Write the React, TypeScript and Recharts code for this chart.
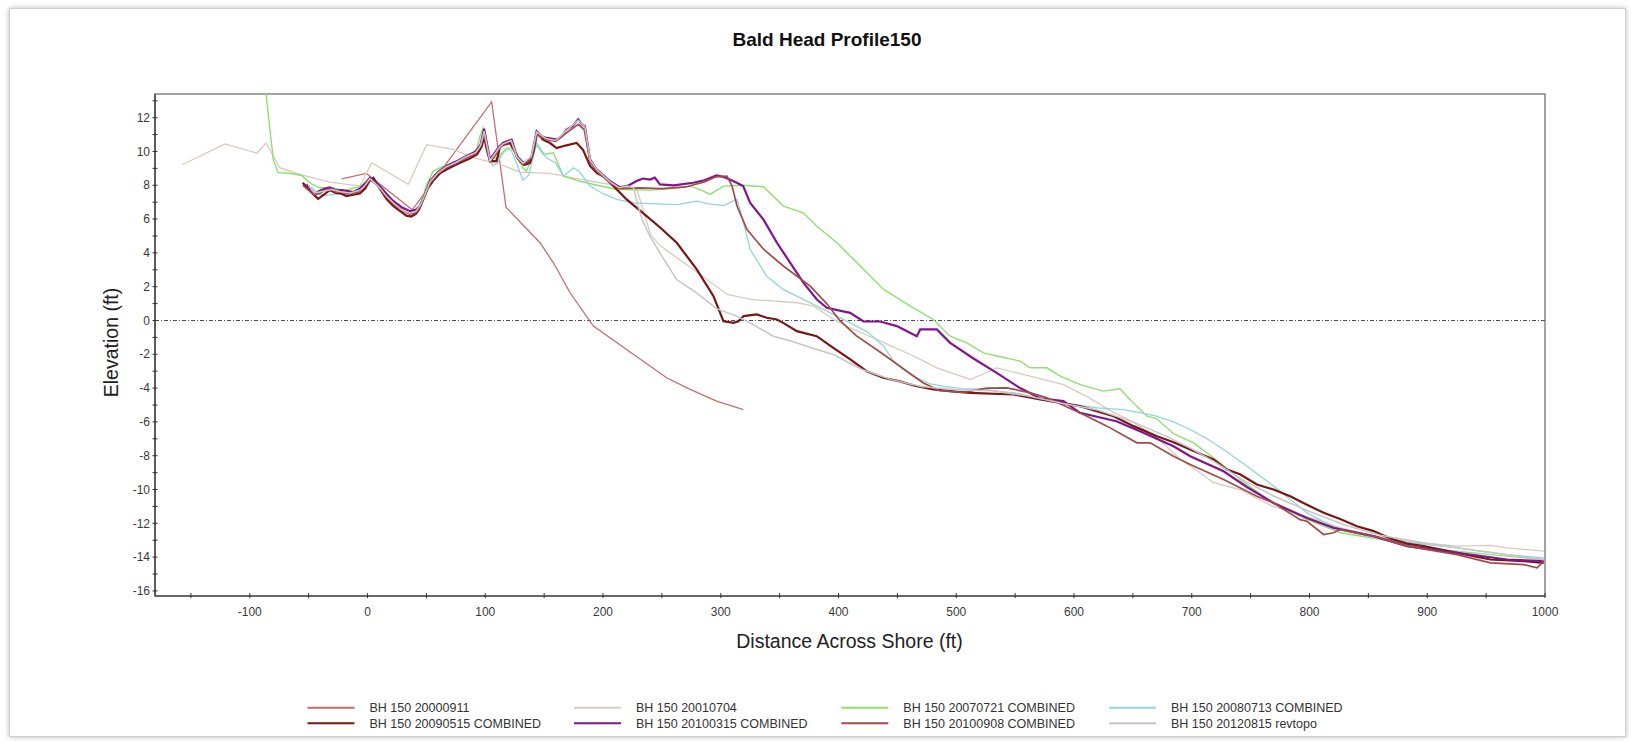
import React from "react";
import { LineChart, Line, XAxis, YAxis, ReferenceLine, ReferenceArea } from "recharts";

// Beach profile surveys, Bald Head profile 150: [distance across shore (ft), elevation (ft)]
const P_20000911: [number, number][] = [
  [-22, 8.38], [-1, 8.7], [38, 6.55], [105.4, 12.93], [117.6, 6.7], [130, 5.8], [146.5, 4.6],
  [158, 3.4], [172, 1.64], [191.8, -0.33], [220, -1.72], [254, -3.39], [274, -4.08],
  [296.5, -4.77], [319.2, -5.27],
];

const P_20010704: [number, number][] = [
  [-157, 9.23], [-121, 10.45], [-94, 9.9], [-86.3, 10.5], [-74.4, 9.03], [-57.4, 8.64], [-32, 8.19],
  [-6.4, 7.95], [3.5, 9.33], [34.6, 8.05], [50.2, 10.4], [72.8, 10.12], [89.8, 9.63], [112.5, 9.23],
  [129.5, 8.78], [155, 8.7], [177.7, 8.39], [197.5, 8.15], [220, 7.91], [229, 7.7], [240.4, 5.08],
  [248.9, 4.4], [268.8, 3.42], [305.6, 1.54], [325.4, 1.25], [365, 1.05], [378.8, 0.85], [396, 0.06],
  [407, -0.34], [438, -1.3], [463.7, -2.1], [483.5, -2.8], [512, -3.49], [534.5, -2.8], [562.8, -3.29],
  [591, -3.79], [611, -4.5], [630, -5.3], [650, -6.0], [670, -6.9], [690, -8.2], [705, -8.9],
  [718.5, -9.6], [741, -10.0], [769, -11.0], [798, -11.6], [826.6, -12.27], [855, -12.76],
  [883, -13.06], [925, -13.35], [953.6, -13.3], [968, -13.45], [999, -13.65],
];

const P_20070721: [number, number][] = [
  [-88, 14.5], [-84, 12.0], [-80, 9.5], [-76, 8.75], [-64.5, 8.7], [-56, 8.58], [-48, 8.1],
  [-40.4, 7.85], [-30, 7.85], [-20, 7.7], [-6.5, 7.91], [2, 8.44], [6, 8.2], [11, 7.8], [16, 7.35],
  [22, 6.95], [30, 6.5], [36, 6.27], [42, 6.5], [46, 7.1], [50, 8.0], [55.8, 8.84], [65, 9.15],
  [78.5, 9.43], [88, 9.8], [93, 10.2], [95.5, 10.9], [98.3, 11.4], [101, 10.5], [104, 9.53],
  [110, 9.6], [118, 10.2], [124, 10.2], [128, 9.7], [132, 9.0], [135, 8.84], [139, 9.5],
  [143.6, 10.4], [149.3, 9.82], [157.8, 9.92], [166.3, 8.54], [180.4, 8.24], [195, 8.0],
  [211.6, 7.75], [240, 7.71], [260, 7.8], [274, 7.95], [284, 7.7], [290.9, 7.46], [302.3, 7.95],
  [319, 8.0], [336.2, 7.91], [353.2, 6.77], [370, 6.37], [381.6, 5.58], [398.6, 4.6], [415.6, 3.41],
  [438.3, 1.84], [461, 0.85], [480.6, 0.06], [494.8, -0.93], [509, -1.32], [523, -1.92],
  [534.5, -2.1], [554.2, -2.4], [562.7, -2.8], [577, -2.8], [588.3, -3.29], [605.3, -3.79],
  [625, -4.18], [639, -4.04], [647.6, -4.67], [662, -5.66], [670, -5.8], [684.5, -6.7],
  [701.6, -7.24], [724, -8.42], [741, -9.41], [769, -10.8], [798, -11.78], [826.6, -12.56],
  [868.6, -13.05], [911, -13.55], [953.5, -13.85], [999, -14.14],
];

const P_20080713: [number, number][] = [
  [-48, 7.9], [-42, 7.5], [-36, 7.4], [-29, 7.46], [-22, 7.5], [-15, 7.4], [-8, 7.5], [-2, 7.9],
  [2, 8.3], [6, 8.1], [11, 7.7], [16, 7.2], [22, 6.9], [30, 6.5], [36, 6.3], [42, 6.45], [46, 6.9],
  [50, 7.6], [55, 8.3], [62, 8.7], [70, 9.0], [80, 9.35], [90, 9.7], [96, 10.1], [99, 10.7],
  [102, 9.8], [106.5, 9.14], [110, 9.3], [114, 9.8], [118, 10.1], [122, 10.1], [126, 9.4],
  [132, 8.3], [137, 8.6], [143.6, 10.5], [152, 9.63], [160, 9.3], [166.3, 8.54], [174.8, 9.04],
  [180, 8.8], [189, 7.95], [200, 7.5], [211.6, 7.16], [225.8, 6.96], [245, 6.9], [262.6, 6.86],
  [279.6, 7.06], [290, 6.9], [302.3, 6.8], [313.6, 7.16], [316.4, 6.57], [325, 4.2], [339, 2.62],
  [353, 1.84], [381.6, 0.85], [410, -0.14], [425, -0.7], [438.3, -1.52], [446.6, -2.4],
  [455.3, -2.9], [463.7, -3.3], [477.8, -3.75], [490, -3.9], [506, -4.05], [523, -4.05],
  [534.5, -4.18], [551.4, -4.3], [562.8, -4.48], [580, -4.75], [599.6, -4.97], [619.5, -5.17],
  [642, -5.27], [656, -5.45], [670, -5.66], [684.5, -6.0], [698.6, -6.45], [713, -7.0],
  [727, -7.63], [747, -8.62], [769.5, -9.8], [784, -10.6], [797.9, -11.38], [812, -11.9],
  [826.3, -12.37], [854.6, -12.86], [883, -13.12], [925.5, -13.45], [968, -13.85], [999, -14.05],
];

const P_20090515: [number, number][] = [
  [-55, 8.15], [-50, 7.75], [-45, 7.4], [-42, 7.2], [-37, 7.45], [-32, 7.72], [-27, 7.55],
  [-22, 7.5], [-18, 7.36], [-12, 7.45], [-6.5, 7.52], [-2, 7.8], [2, 8.3], [5, 8.44], [8, 8.1],
  [11, 7.75], [16, 7.2], [22, 6.77], [28, 6.45], [33, 6.2], [37, 6.15], [41, 6.3], [44, 6.6],
  [48, 7.3], [51, 7.8], [56, 8.3], [62, 8.74], [70, 9.05], [78.5, 9.33], [86, 9.55], [93, 9.82],
  [97, 10.3], [99, 10.9], [101, 10.2], [104, 9.43], [109.6, 9.43], [112.5, 10.3], [116, 10.4],
  [121, 10.5], [125, 10.0], [129.5, 9.4], [133, 9.2], [138, 9.33], [141, 10.0], [144, 11.1],
  [149, 10.7], [155, 10.5], [160.6, 10.2], [168, 10.35], [177.6, 10.5], [183, 10.1], [189, 9.14],
  [195, 8.7], [200.3, 8.54], [209, 7.95], [220, 7.16], [234, 6.35], [248.5, 5.5], [262.6, 4.6],
  [279.6, 3.02], [293.8, 1.44], [302.3, -0.04], [310.8, -0.14], [315, -0.05], [319.4, 0.26],
  [330.7, 0.36], [339, 0.16], [347.7, 0.06], [353, -0.14], [364.6, -0.63], [381.5, -0.93],
  [395.6, -1.62], [410, -2.3], [423.9, -3.0], [438, -3.39], [452, -3.6], [466.4, -3.89],
  [480.5, -4.08], [494.7, -4.18], [511.7, -4.28], [548.6, -4.38], [571.3, -4.67], [605, -5.07],
  [633.6, -5.66], [650.6, -6.25], [670.4, -6.85], [684.5, -7.2], [698.7, -7.63], [718.5, -8.22],
  [729.8, -8.82], [741, -9.1], [755.3, -9.7], [769.5, -10.0], [783.6, -10.4], [797.8, -10.9],
  [812, -11.38], [826, -11.75], [840.3, -12.17], [854.5, -12.46], [868.6, -12.9], [882.8, -13.2],
  [897, -13.35], [925.3, -13.75], [953.6, -14.14], [982, -14.24], [999, -14.34],
];

const P_20100315: [number, number][] = [
  [-52, 8.05], [-48, 7.6], [-44, 7.5], [-41, 7.67], [-36, 7.8], [-32, 7.87], [-27, 7.7],
  [-22, 7.72], [-18, 7.67], [-12, 7.6], [-6.5, 7.8], [-2, 8.1], [2, 8.44], [6, 8.2], [10.5, 7.95],
  [16, 7.5], [22, 7.06], [29, 6.7], [36, 6.47], [41, 6.55], [44.5, 6.77], [49, 7.5], [53, 8.25],
  [60, 8.8], [67, 9.14], [75, 9.4], [84, 9.73], [92, 10.0], [96, 10.4], [99, 11.34], [101, 10.6],
  [104, 9.53], [108, 9.92], [112, 10.3], [115, 10.5], [122.4, 10.7], [126.7, 9.73], [132.3, 9.33],
  [136, 9.4], [139.4, 9.73], [143.6, 11.2], [148, 10.9], [152, 10.8], [160.6, 10.7], [165, 10.9],
  [169, 11.3], [174, 11.5], [178.9, 11.9], [182, 11.6], [184.6, 11.5], [188.9, 9.53], [194.5, 8.94],
  [205.8, 8.25], [214.3, 7.87], [222, 8.0], [228.5, 8.25], [234, 8.4], [239.8, 8.34], [244, 8.45],
  [248.3, 8.05], [260, 8.0], [276.6, 8.15], [286, 8.3], [296.4, 8.59], [302, 8.5], [307.7, 8.34],
  [313.6, 8.15], [319, 7.95], [325, 6.96], [336.3, 5.97], [347.7, 4.6], [359, 3.41], [370.3, 2.22],
  [381.6, 1.24], [390, 0.75], [400, 0.6], [409.9, 0.45], [421.2, -0.06], [435.4, -0.06],
  [449.5, -0.33], [466.5, -0.93], [469.4, -0.53], [483.5, -0.53], [494.8, -1.32], [514.6, -2.25],
  [534.3, -3.1], [554.2, -4.0], [571.2, -4.6], [591, -4.77], [605, -5.46], [636, -5.96],
  [656, -6.55], [684.5, -7.44], [698.7, -8.03], [727, -8.92], [746.8, -9.85], [769.5, -10.8],
  [797.8, -11.68], [820.5, -12.27], [854.5, -12.76], [882.8, -13.35], [925.3, -13.75],
  [967.8, -14.14], [999, -14.24],
];

const P_20100908: [number, number][] = [
  [-55, 8.0], [-50, 7.7], [-45, 7.45], [-41, 7.5], [-36, 7.7], [-32, 7.8], [-27, 7.6], [-22, 7.6],
  [-18, 7.5], [-12, 7.5], [-6.5, 7.65], [-2, 8.0], [2, 8.35], [6, 8.15], [10.5, 7.85], [16, 7.35],
  [22, 6.9], [29, 6.55], [36, 6.3], [41, 6.4], [44.5, 6.7], [49, 7.4], [53, 8.1], [60, 8.7],
  [67, 9.05], [75, 9.3], [84, 9.6], [92, 9.9], [96, 10.3], [99, 11.0], [101, 10.4], [104, 9.4],
  [108, 9.7], [112, 10.2], [115, 10.4], [122, 10.6], [127, 9.6], [132, 9.25], [139, 9.6],
  [143.6, 11.0], [152, 10.7], [160, 10.6], [169, 11.1], [179, 11.6], [184, 11.3], [189, 9.4],
  [195, 8.8], [206, 8.15], [214, 7.8], [230, 7.85], [250, 7.8], [270, 7.9], [286, 8.2], [296, 8.5],
  [305.3, 8.54], [309.6, 7.95], [313.8, 6.77], [322.3, 5.38], [336.5, 4.2], [353.4, 3.21],
  [376, 2.03], [390, 1.0], [401, 0.0], [415, -0.9], [438, -2.0], [458, -3.0], [472, -3.7],
  [486, -4.15], [506, -4.25], [526, -4.0], [543, -3.99], [563, -4.28], [577, -4.57], [608, -5.56],
  [628, -6.25], [653.4, -7.24], [664.7, -7.24], [684.5, -8.03], [698.7, -8.52], [727, -9.41],
  [755.3, -10.4], [769.5, -10.8], [792, -11.78], [797.8, -11.88], [812, -12.66], [820.5, -12.56],
  [826, -12.37], [854.5, -12.76], [882.8, -13.35], [925.3, -13.85], [953.6, -14.34], [982, -14.44],
  [993.3, -14.63], [999, -14.24],
];

const P_20120815: [number, number][] = [
  [-50, 8.0], [-45, 7.55], [-38, 7.65], [-30, 7.75], [-22, 7.6], [-15, 7.55], [-6.5, 7.7],
  [-2, 8.0], [2, 8.4], [6, 8.15], [11, 7.8], [16, 7.35], [22, 6.95], [29, 6.55], [36, 6.35],
  [41, 6.45], [45, 6.85], [49, 7.5], [53, 8.2], [60, 8.75], [67, 9.1], [75, 9.35], [84, 9.7],
  [92, 9.95], [96, 10.35], [99, 11.2], [101, 10.5], [104, 9.45], [108, 9.85], [112, 10.25],
  [115, 10.45], [122, 10.65], [126.7, 9.7], [132, 9.3], [139, 9.7], [143.6, 11.15], [152, 10.75],
  [160, 10.65], [169, 11.25], [178.9, 11.85], [184.6, 11.45], [189, 9.5], [195, 8.9], [206, 8.2],
  [214, 7.85], [220, 7.95], [226, 7.87], [229, 6.96], [233, 6.0], [239.8, 4.99], [248.3, 4.0],
  [262.5, 2.42], [279.5, 1.63], [296.5, 0.7], [313.5, 0.26], [324.8, -0.14], [344.7, -0.93],
  [358.8, -1.2], [381.5, -1.72], [395.6, -2.01], [420, -2.9], [445, -3.5], [470, -3.9],
  [500, -4.1], [530, -4.15], [560, -4.45], [590, -4.9], [620, -5.3], [650, -6.0], [680, -6.9],
  [700, -7.6], [720, -8.4], [745, -9.5], [770, -10.4], [800, -11.3], [830, -12.1], [860, -12.7],
  [900, -13.2], [950, -13.7], [999, -14.15],
];

const SERIES_NAMES = [
  "BH 150 20000911",
  "BH 150 20010704",
  "BH 150 20070721 COMBINED",
  "BH 150 20080713 COMBINED",
  "BH 150 20090515 COMBINED",
  "BH 150 20100315 COMBINED",
  "BH 150 20100908 COMBINED",
  "BH 150 20120815 revtopo",
];

const X_TICKS = [-150, -100, -50, 0, 50, 100, 150, 200, 250, 300, 350, 400, 450, 500, 550, 600, 650, 700, 750, 800, 850, 900, 950, 1000];
const Y_TICKS = [-16, -15, -14, -13, -12, -11, -10, -9, -8, -7, -6, -5, -4, -3, -2, -1, 0, 1, 2, 3, 4, 5, 6, 7, 8, 9, 10, 11, 12, 13];

const X_DOMAIN: [number, number] = [-180.5, 1000];
const Y_DOMAIN: [number, number] = [-16.3, 13.4];

const FONT = "'Liberation Sans', Arial, Helvetica, sans-serif";

const toPoints = (pairs: [number, number][]) => pairs.map(([x, y]) => ({ x, y }));

const series = [
  { name: SERIES_NAMES[0], data: toPoints(P_20000911), color: "#c56e6c", width: 1.3 },
  { name: SERIES_NAMES[1], data: toPoints(P_20010704), color: "#d8cbbd", width: 1.3 },
  { name: SERIES_NAMES[2], data: toPoints(P_20070721), color: "#8ee06f", width: 1.4 },
  { name: SERIES_NAMES[3], data: toPoints(P_20080713), color: "#92d5de", width: 1.3 },
  { name: SERIES_NAMES[4], data: toPoints(P_20090515), color: "#7a1616", width: 2.2 },
  { name: SERIES_NAMES[5], data: toPoints(P_20100315), color: "#82158d", width: 2.2 },
  { name: SERIES_NAMES[6], data: toPoints(P_20100908), color: "#a34b48", width: 1.7 },
  { name: SERIES_NAMES[7], data: toPoints(P_20120815), color: "#c6c6c6", width: 1.5 },
];

const YTick = (props: any) => {
  const { x, y, payload } = props;
  const v = payload.value as number;
  return (
    <g>
      <line x1={x - 2.5} x2={x + 2.5} y1={y} y2={y} stroke="#333" strokeWidth={1} />
      {v % 2 === 0 && (
        <text x={x - 5} y={y} dy="0.35em" textAnchor="end" fontSize={12} fill="#3a3a3a" fontFamily={FONT}>
          {v}
        </text>
      )}
    </g>
  );
};

const XTick = (props: any) => {
  const { x, y, payload } = props;
  const v = payload.value as number;
  return (
    <g>
      <line x1={x} x2={x} y1={y - 3} y2={y + 2} stroke="#333" strokeWidth={1} />
      {v % 100 === 0 && (
        <text x={x} y={y + 20} textAnchor="middle" fontSize={12} fill="#3a3a3a" fontFamily={FONT}>
          {v}
        </text>
      )}
    </g>
  );
};

const LEGEND_COLS = [307.5, 574, 841.3, 1109];
const LEGEND_ROWS = [707.7, 723.3];

export default function App() {
  return (
    <div style={{ position: "absolute", left: 0, top: 0, width: 1631, height: 742, background: "#fff", overflow: "hidden" }}>
      <div
        style={{
          position: "absolute",
          left: 9,
          top: 8,
          width: 1615,
          height: 727,
          border: "1px solid #cfcfcf",
          boxShadow: "0 0 5px rgba(0,0,0,0.28)",
          background: "#fff",
        }}
      />
      <div style={{ position: "absolute", left: 0, top: 0 }}>
        <LineChart width={1631} height={742} margin={{ top: 94, right: 86, bottom: 116, left: 95 }}>
          <ReferenceArea
            x1={X_DOMAIN[0]}
            x2={X_DOMAIN[1]}
            y1={Y_DOMAIN[0]}
            y2={Y_DOMAIN[1]}
            fill="none"
            stroke="#858585"
            strokeWidth={1.5}
            ifOverflow="visible"
          />
          <XAxis
            type="number"
            dataKey="x"
            domain={X_DOMAIN}
            allowDataOverflow
            ticks={X_TICKS}
            interval={0}
            height={30}
            tickSize={0}
            tickMargin={0}
            tickLine={false}
            tick={<XTick />}
            axisLine={{ stroke: "#555", strokeWidth: 1.5 }}
          />
          <YAxis
            type="number"
            dataKey="y"
            domain={Y_DOMAIN}
            allowDataOverflow
            ticks={Y_TICKS}
            interval={0}
            width={60}
            tickSize={0}
            tickMargin={0}
            tickLine={false}
            tick={<YTick />}
            axisLine={{ stroke: "#444", strokeWidth: 1.5 }}
          />
          <ReferenceLine y={0} stroke="#4a4a6e" strokeWidth={1} strokeDasharray="4 2 1 2" />
          {series.map((s) => (
            <Line
              key={s.name}
              name={s.name}
              data={s.data}
              dataKey="y"
              type="linear"
              stroke={s.color}
              strokeWidth={s.width}
              dot={false}
              activeDot={false}
              isAnimationActive={false}
            />
          ))}
        </LineChart>
      </div>
      <svg
        width={1631}
        height={742}
        style={{ position: "absolute", left: 0, top: 0, pointerEvents: "none" }}
        fontFamily={FONT}
      >
        <text x={827} y={46} textAnchor="middle" fontSize={19} fontWeight="bold" fill="#111">
          Bald Head Profile150
        </text>
        <text x={849.5} y={648} textAnchor="middle" fontSize={19.5} fill="#222">
          Distance Across Shore (ft)
        </text>
        <text transform="translate(118,342.5) rotate(-90)" textAnchor="middle" fontSize={19.5} fill="#222">
          Elevation (ft)
        </text>
        {series.map((s, i) => {
          const lx = LEGEND_COLS[i % 4];
          const ly = LEGEND_ROWS[Math.floor(i / 4)];
          return (
            <g key={s.name}>
              <line x1={lx} x2={lx + 47} y1={ly} y2={ly} stroke={s.color} strokeWidth={2} />
              <text x={lx + 62} y={ly + 4.5} fontSize={12.5} fill="#333">
                {s.name}
              </text>
            </g>
          );
        })}
      </svg>
    </div>
  );
}
